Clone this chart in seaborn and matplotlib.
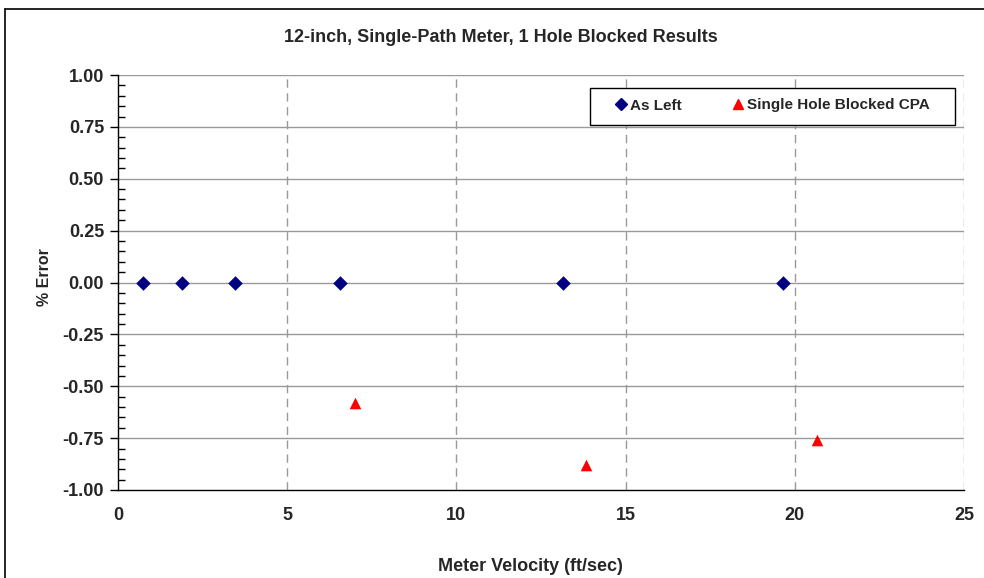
import matplotlib
matplotlib.use("Agg")
import matplotlib.pyplot as plt
import seaborn as sns
import pandas as pd
from matplotlib.lines import Line2D
from matplotlib.patches import Rectangle
from matplotlib.ticker import MultipleLocator

# Data
as_left_x = [0.73, 1.88, 3.45, 6.55, 13.16, 19.65]
as_left_y = [0.0, 0.0, 0.0, 0.0, 0.0, 0.0]
blocked_x = [7.01, 13.83, 20.66]
blocked_y = [-0.58, -0.88, -0.76]
series_names = ["As Left", "Single Hole Blocked CPA"]
title = "12-inch, Single-Path Meter, 1 Hole Blocked Results"
x_label = "Meter Velocity (ft/sec)"
y_label = "% Error"

sns.set_style("white")
plt.rcParams['font.family'] = ['Liberation Sans', 'DejaVu Sans']

fig = plt.figure(figsize=(9.84, 5.78), dpi=100)
L, R, T, B = 118, 964, 75, 490
ax = fig.add_axes([L/984, 1 - B/578, (R - L)/984, (B - T)/578])

df1 = pd.DataFrame({"x": as_left_x, "y": as_left_y})
df2 = pd.DataFrame({"x": blocked_x, "y": blocked_y})
sns.scatterplot(data=df1, x="x", y="y", ax=ax, marker="D", color="#000080",
                s=55, edgecolor="#000080", linewidth=0, zorder=5)
sns.scatterplot(data=df2, x="x", y="y", ax=ax, marker="^", color="#FF0000",
                s=70, edgecolor="#FF0000", linewidth=0, zorder=5)

ax.set_xlim(0, 25)
ax.set_ylim(-1.0, 1.0)
ax.xaxis.set_major_locator(MultipleLocator(5))
ax.xaxis.set_minor_locator(MultipleLocator(1))
ax.yaxis.set_major_locator(MultipleLocator(0.25))
ax.yaxis.set_minor_locator(MultipleLocator(0.05))
ax.set_yticks(ax.get_yticks())
ax.set_yticklabels([f"{v:.2f}" for v in ax.get_yticks()])
ax.set_ylim(-1.0, 1.0)

# gridlines
for yv in [-0.75, -0.5, -0.25, 0, 0.25, 0.5, 0.75, 1.0]:
    ax.axhline(yv, color="#999999", lw=1.0, zorder=1)
for xv in [5, 10, 15, 20, 25]:
    ax.axvline(xv, color="#999999", lw=1.0, ls=(0, (6, 4)), zorder=1)

for s in ["top", "right"]:
    ax.spines[s].set_visible(False)
for s in ["left", "bottom"]:
    ax.spines[s].set_color("black")
    ax.spines[s].set_linewidth(1.0)

ax.tick_params(axis="x", which="major", direction="inout", length=9, width=1,
               color="black", labelsize=13, pad=8)
ax.tick_params(axis="x", which="minor", direction="inout", length=8, width=1, color="black")
ax.tick_params(axis="y", which="major", direction="out", length=6, width=1,
               color="black", labelsize=13, pad=4, left=True)
ax.tick_params(axis="y", which="minor", direction="in", length=5, width=1, color="black", left=True)
for lab in ax.get_xticklabels() + ax.get_yticklabels():
    lab.set_fontweight("bold")

ax.set_xlabel(x_label, fontsize=13, fontweight="bold")
ax.set_ylabel(y_label, fontsize=11.5, fontweight="bold")
ax.xaxis.set_label_coords((530.5 - L) / (R - L), (B - 558) / (B - T))
ax.yaxis.set_label_coords((52 - L) / (R - L), (B - 277) / (B - T))
fig.text(501/984, 1 - 38/578, title, ha="center", va="center",
         fontsize=13, fontweight="bold")

# legend box
bx0, bx1, by0, by1 = 590, 955, 88, 125
ax.add_patch(Rectangle(((bx0 - L)/(R - L), (B - by1)/(B - T)), (bx1 - bx0)/(R - L),
                       (by1 - by0)/(B - T), transform=ax.transAxes, facecolor="white",
                       edgecolor="black", lw=1.0, zorder=6))
handles = [Line2D([], [], marker="D", color="#000080", ls="none", markersize=6),
           Line2D([], [], marker="^", color="#FF0000", ls="none", markersize=7)]
leg = ax.legend(handles, series_names, loc="center", ncol=2,
                bbox_to_anchor=(((bx0 + bx1)/2 - 1 - L)/(R - L), (B - (by0 + by1)/2 + 1)/(B - T)),
                frameon=False, borderaxespad=0,
                handletextpad=0.1, columnspacing=3.15, handlelength=1.0,
                borderpad=0.3, prop={"size": 11, "weight": "bold"})
leg.set_zorder(7)

# outer chart border (left and top)
fig.add_artist(Line2D([5/984, 5/984], [0, 1 - 9/578], color="black", lw=1.2,
                      transform=fig.transFigure))
fig.add_artist(Line2D([5/984, 1], [1 - 9/578, 1 - 9/578], color="black", lw=1.2,
                      transform=fig.transFigure))

fig.savefig("out.png", dpi=100)
